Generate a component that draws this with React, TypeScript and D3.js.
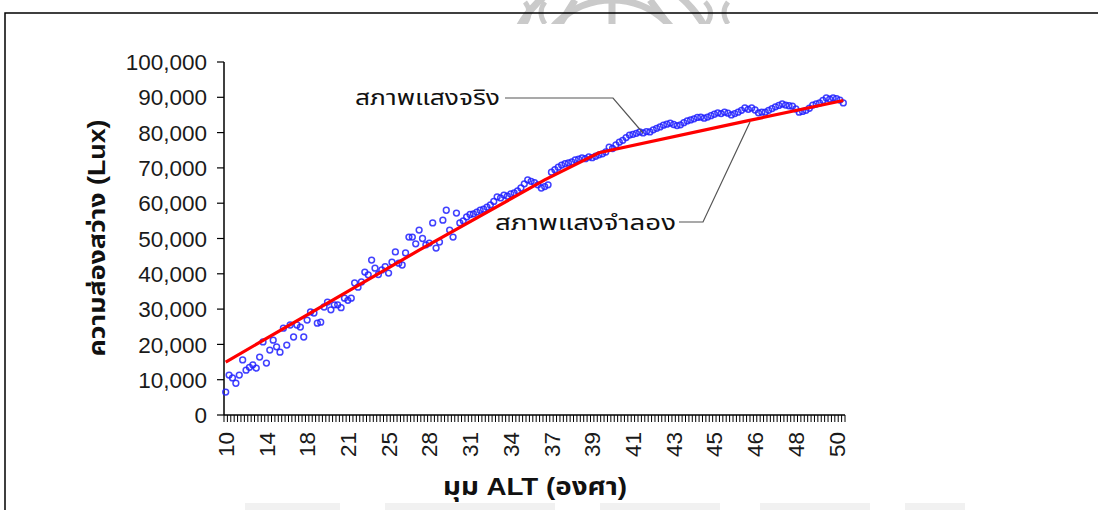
import * as d3 from "d3";

// measured lux per sample (category axis, one sample per tick)
const blueLux: number[] = [
  6500, 11300, 10500, 9000, 11300, 15600, 12700, 13500, 14200, 13300,
  16400, 20700, 14700, 18400, 21200, 19300, 17800, 24600, 19800, 25500,
  22100, 25500, 24900, 22100, 26900, 29200, 28900, 26000, 26300, 30600,
  32000, 29800, 31200, 31200, 30400, 33100, 32500, 33100, 37400, 36200,
  37700, 40500, 39700, 43900, 41600, 39800, 41100, 42000, 40200, 43300,
  46200, 43000, 42500, 45900, 50400, 50400, 48500, 52400, 50000, 48200,
  48700, 54400, 47300, 49000, 55200, 58000, 52400, 50400, 57200, 54400,
  55000, 56100, 56800, 57000, 57500, 58000, 58300, 58900, 59500, 60500,
  61800, 61500, 62300, 62000, 62600, 62900, 63500, 64300, 65500, 66600,
  66200, 65800, 65200, 64300, 64700, 65200, 68800, 69500, 70200, 70800,
  71200, 71400, 71700, 72300, 72500, 72800, 72600, 73100, 72900, 73300,
  73700, 74000, 74500, 75900, 75500, 76500, 77300, 77800, 78600, 79300,
  79500, 79800, 80200, 79900, 80300, 80200, 80800, 81200, 81600, 82100,
  82400, 82700, 82300, 82000, 82200, 82800, 83300, 83600, 83900, 84300,
  84400, 84100, 84400, 84800, 85200, 85600, 85400, 85800, 85500, 85000,
  85400, 85800, 86300, 87000, 86600, 87000, 86400, 85600, 85800, 85800,
  86300, 86800, 87300, 87700, 88100, 87800, 87600, 87500, 86700, 85800,
  86000, 86300, 86900, 87800, 88100, 88400, 89100, 89800, 89500, 89800,
  89600, 89200, 88400,
];

// simulated light model, read at a few sample indices
const redIdx = [0, 57, 94, 110, 154, 182];
const redLux = [15000, 46700, 66600, 74300, 83400, 89100];

const xTickLabels = ["10", "14", "18", "21", "25", "28", "31", "34", "37", "39", "41", "43", "45", "46", "48", "50"];
const labelEvery = 12;
const yTicks = [0, 10000, 20000, 30000, 40000, 50000, 60000, 70000, 80000, 90000, 100000];

const FONT = "Arial, 'Liberation Sans', 'Noto Sans Thai', 'Loma', 'Garuda', sans-serif";

export default function App() {
  const W = 1098;
  const H = 510;
  const m = { left: 224, right: 845, top: 62, bottom: 415 };

  const n = blueLux.length;
  const x = d3.scaleBand<number>().domain(d3.range(n)).range([m.left, m.right]);
  const bw = x.bandwidth();
  const cx = (i: number) => (x(i) ?? 0) + bw / 2;
  const y = d3.scaleLinear().domain([0, 100000]).range([m.bottom, m.top]);
  const fmt = d3.format(",");

  const redLine = d3
    .line<number>()
    .x((_, k) => cx(redIdx[k]))
    .y((v) => y(v))(redLux);

  return (
    <svg
      width={W}
      height={H}
      style={{ position: "absolute", left: 0, top: 0, background: "#fff", fontFamily: FONT }}
    >
      <defs>
        <clipPath id="wm-top">
          <rect x={0} y={0} width={W} height={24} />
        </clipPath>
      </defs>

      {/* faint scan watermark */}
      <g clipPath="url(#wm-top)" fill="none" stroke="#cacaca" strokeWidth={7}>
        <circle cx={612} cy={78} r={106} />
        <circle cx={612} cy={78} r={78} />
        <path d="M575,0 L560,24 M650,0 L668,24 M612,0 V24" />
        <path d="M525,2 q8,10 0,22 M545,2 q-8,10 0,22" strokeWidth={5} />
        <path d="M705,2 q10,10 2,22 M728,2 q-8,10 0,22" strokeWidth={5} />
      </g>
      <g fill="#f1f1f1">
        <rect x={245} y={503} width={95} height={7} />
        <rect x={385} y={503} width={170} height={7} />
        <rect x={600} y={503} width={120} height={7} />
        <rect x={760} y={503} width={110} height={7} />
        <rect x={905} y={503} width={60} height={7} />
      </g>

      {/* page frame */}
      <path d={`M5,${H} V13 H${W}`} fill="none" stroke="#000" strokeWidth={1.5} />

      {/* y axis */}
      <line x1={m.left} x2={m.left} y1={m.top} y2={m.bottom} stroke="#000" strokeWidth={1.5} />
      {yTicks.map((t) => (
        <g key={t}>
          <line x1={m.left - 7} x2={m.left} y1={y(t)} y2={y(t)} stroke="#000" strokeWidth={1.2} />
          <text x={m.left - 17} y={y(t)} dy="0.36em" textAnchor="end" fontSize={22.5} fill="#1a1a1a">
            {fmt(t)}
          </text>
        </g>
      ))}

      {/* x axis */}
      <line x1={m.left} x2={m.right} y1={m.bottom} y2={m.bottom} stroke="#000" strokeWidth={1.5} />
      {d3.range(n + 1).map((i) => {
        const xx = m.left + i * bw;
        return <line key={i} x1={xx} x2={xx} y1={m.bottom} y2={m.bottom + 7} stroke="#000" strokeWidth={1} />;
      })}
      {xTickLabels.map((lab, k) => {
        const xx = cx(k * labelEvery);
        return (
          <text
            key={lab + k}
            transform={`translate(${xx},432) rotate(-90)`}
            dy="0.36em"
            textAnchor="end"
            fontSize={22.5}
            fill="#1a1a1a"
          >
            {lab}
          </text>
        );
      })}

      {/* measured points */}
      {blueLux.map((v, i) => (
        <circle key={i} cx={cx(i)} cy={y(v)} r={2.9} fill="none" stroke="#2020ff" strokeWidth={1.5} opacity={0.85} />
      ))}

      {/* simulated line */}
      <path d={redLine ?? ""} fill="none" stroke="#ff0000" strokeWidth={3.2} />

      {/* annotations */}
      <text x={355} y={97} dy="0.36em" fontSize={22} fill="#111" textLength={145} lengthAdjust="spacingAndGlyphs">
        สภาพแสงจริง
      </text>
      <path d="M505,98 H613 L643,133" fill="none" stroke="#555" strokeWidth={1.2} />
      <text x={495} y={222} dy="0.36em" fontSize={22} fill="#111" textLength={181} lengthAdjust="spacingAndGlyphs">
        สภาพแสงจำลอง
      </text>
      <path d="M679,222 H703 L750,122" fill="none" stroke="#555" strokeWidth={1.2} />

      {/* axis titles */}
      <text
        transform="translate(97,238) rotate(-90)"
        dy="0.36em"
        textAnchor="middle"
        fontSize={23}
        fontWeight="bold"
        fill="#111"
        textLength={237}
        lengthAdjust="spacingAndGlyphs"
      >
        ความส่องสว่าง (Lux)
      </text>
      <text
        x={535}
        y={486}
        dy="0.36em"
        textAnchor="middle"
        fontSize={24}
        fontWeight="bold"
        fill="#111"
        textLength={184}
        lengthAdjust="spacingAndGlyphs"
      >
        มุม ALT (องศา)
      </text>
    </svg>
  );
}
